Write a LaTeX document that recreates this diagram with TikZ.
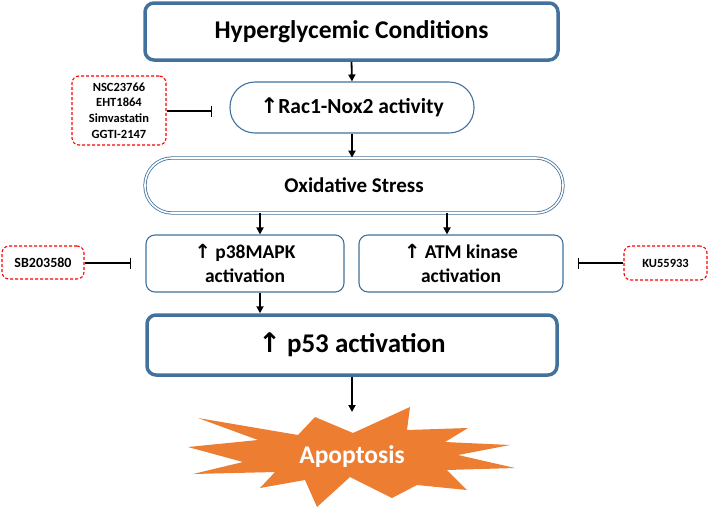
\documentclass[tikz,border=0pt]{standalone}
\usepackage{fontspec}
\setmainfont{Carlito}
\newfontfamily\arrowfont{DejaVu Sans}
\newcommand{\upa}{{\arrowfont\bfseries ↑}}
\usetikzlibrary{arrows.meta}
\definecolor{bbord}{HTML}{41719C}
\definecolor{orng}{HTML}{ED7D31}
\begin{document}
\begin{tikzpicture}[x=1pt,y=-1pt,
  thickbox/.style={draw=bbord,line width=3.5pt,rounded corners=9pt,fill=white,font=\bfseries\fontsize{25.5}{30}\selectfont,align=center,inner sep=0pt},
  thinbox/.style={draw=bbord,line width=1.1pt,rounded corners=9pt,fill=white,font=\bfseries\fontsize{19.5}{23.5}\selectfont,align=center,inner sep=0pt},
  drugbox/.style={draw=red,dash pattern=on 3pt off 2pt,line width=1.1pt,rounded corners=7pt,fill=white,font=\bfseries\fontsize{12.5}{15.7}\selectfont,align=center,inner sep=0pt},
  arr/.style={line width=1.8pt,-{Triangle[length=7pt,width=7pt]}},
  inh/.style={line width=1.4pt,-{Bar[width=11pt,line width=1.4pt]}}]
\useasboundingbox (0,0) rectangle (709,509);

\node[thickbox,minimum width=413pt,minimum height=57pt] (hyper) at (351.5,31.5) {Hyperglycemic Conditions};
\node[thinbox,font=\bfseries\fontsize{21.5}{25}\selectfont,rounded corners=25pt,minimum width=244pt,minimum height=51pt] (rac) at (352,107.5) {\upa Rac1-Nox2 activity};
\node[drugbox,minimum width=94pt,minimum height=69pt] (drugs) at (119,110.5) {NSC23766\\EHT1864\\Simvastatin\\GGTI-2147};
\node[draw=bbord,double,double distance=1.6pt,line width=0.8pt,rounded corners=27pt,fill=white,font=\bfseries\fontsize{21}{25}\selectfont,minimum width=418pt,minimum height=55pt,inner sep=0pt] (ox) at (354,185.5) {Oxidative Stress};
\node[thinbox,minimum width=198pt,minimum height=57pt] (p38) at (245,263.5) {\upa\ p38MAPK\\activation};
\node[thinbox,minimum width=204pt,minimum height=57pt] (atm) at (461,263.5) {\upa\ ATM kinase\\activation};
\node[drugbox,font=\bfseries\fontsize{14}{17}\selectfont,minimum width=82pt,minimum height=33pt] (sb) at (43,262.5) {SB203580};
\node[drugbox,minimum width=83pt,minimum height=34pt] (ku) at (665.5,263) {KU55933};
\node[thickbox,font=\bfseries\fontsize{27}{31}\selectfont,minimum width=410pt,minimum height=60pt] (p53) at (352,345) {\upa\ p53 activation};

\fill[orng] (198,418) -- (298,435) -- (315,417) -- (353,433) -- (410,407) -- (407,430)
  -- (468,428) -- (445,442) -- (510,445) -- (458,455) -- (515,468) -- (447,470)
  -- (467,490) -- (417,485) -- (392,498) -- (350,477) -- (317,507) -- (305,480)
  -- (260,488) -- (275,472) -- (193,474) -- (243,462) -- (188,447) -- (258,440) -- cycle;
\node[text=white,font=\bfseries\fontsize{25.5}{30}\selectfont] (apop) at (352,457) {Apoptosis};
\coordinate (apoptop) at (352,412);

\draw[arr] (hyper.south) -- (rac.north);
\draw[arr] (rac.south) -- (ox.north -| rac.south);
\draw[arr] (ox.south -| p38.north) ++(15,0) coordinate (o1) -- (o1 |- p38.north);
\draw[arr] (ox.south -| atm.north) ++(-14,0) coordinate (o2) -- (o2 |- atm.north);
\draw[arr] (p38.south -| o1) -- (p53.north -| o1);
\draw[arr] (p53.south) -- (apoptop);

\coordinate (b1) at (212,111);
\coordinate (b2) at (131,263);
\coordinate (b3) at (578,263);
\draw[inh] (drugs.east |- b1) -- (b1);
\draw[inh] (sb.east |- b2) -- (b2);
\draw[inh] (ku.west |- b3) -- (b3);
\end{tikzpicture}
\end{document}
